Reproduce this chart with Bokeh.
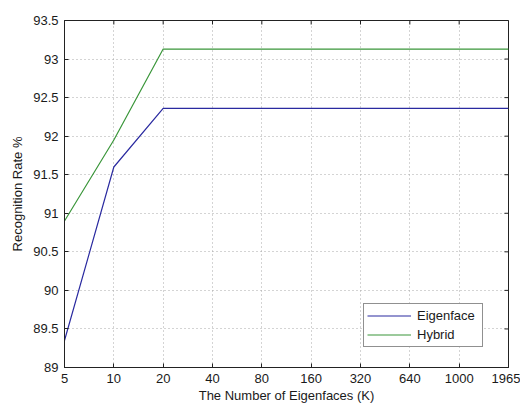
from bokeh.plotting import figure
from bokeh.models import (Range1d, FixedTicker, NumeralTickFormatter,
                          Legend, LegendItem, ColumnDataSource)
from bokeh.embed import file_html
from bokeh.resources import INLINE

# ---- data ----
categories = ["5", "10", "20", "40", "80", "160", "320", "640", "1000", "1965"]
eigenface = [89.35, 91.60, 92.36, 92.36, 92.36, 92.36, 92.36, 92.36, 92.36, 92.36]
hybrid = [90.90, 91.95, 93.13, 93.13, 93.13, 93.13, 93.13, 93.13, 93.13, 93.13]
y_ticks = [89, 89.5, 90, 90.5, 91, 91.5, 92, 92.5, 93, 93.5]
y_min, y_max = 89, 93.5

xs = list(range(len(categories)))
src = ColumnDataSource(dict(x=xs, eig=eigenface, hyb=hybrid))

FONT = "Liberation Sans"
FS = "13px"
TXT = "#1a1a1a"
AX = "#222222"

p = figure(width=520, height=405, output_backend="svg",
           toolbar_location=None,
           x_range=Range1d(0, len(categories) - 1), y_range=Range1d(y_min, y_max),
           min_border_left=64, min_border_right=12, min_border_top=20,
           min_border_bottom=38, background_fill_color="white",
           border_fill_color="white", outline_line_color=AX)

xt = FixedTicker(ticks=xs)
yt = FixedTicker(ticks=y_ticks)

p.xaxis.ticker = xt
p.xaxis.major_label_overrides = {i: c for i, c in enumerate(categories)}
p.yaxis.ticker = yt
p.yaxis.formatter = NumeralTickFormatter(format="0.[0]")

for ax in (p.xaxis, p.yaxis):
    ax.major_tick_in = 4
    ax.major_tick_out = 0
    ax.minor_tick_line_color = None
    ax.axis_line_color = AX
    ax.major_tick_line_color = AX
    ax.major_label_text_font = FONT
    ax.major_label_text_font_size = FS
    ax.major_label_text_color = TXT
    ax.axis_label_text_font = FONT
    ax.axis_label_text_font_size = FS
    ax.axis_label_text_font_style = "normal"
    ax.axis_label_text_color = TXT

p.xaxis.axis_label = "The Number of Eigenfaces (K)"
p.yaxis.axis_label = "Recognition Rate %"
p.xaxis.major_label_standoff = 6
p.yaxis.major_label_standoff = 6
p.xaxis.axis_label_standoff = 2
p.yaxis.axis_label_standoff = 5

p.xgrid.ticker = xt
p.ygrid.ticker = yt
for g in (p.xgrid, p.ygrid):
    g.grid_line_color = "#a8a8a8"
    g.grid_line_dash = "1 3"
    g.grid_line_width = 1

# inward tick marks on the top and right edges of the box (clipped by the frame)
p.scatter(x=xs, y=[y_max] * len(xs), marker="dash", angle=1.5708, size=8,
          line_color=AX, line_width=1)
p.scatter(x=[len(categories) - 1] * len(y_ticks), y=y_ticks, marker="dash",
          size=8, line_color=AX, line_width=1)

r1 = p.line("x", "eig", source=src, line_color="#2a2aa0", line_width=1.2)
r2 = p.line("x", "hyb", source=src, line_color="#3a963a", line_width=1.2)

legend = Legend(items=[LegendItem(label="Eigenface", renderers=[r1]),
                       LegendItem(label="Hybrid", renderers=[r2])],
                location=(299, 20), padding=3, spacing=2,
                glyph_width=44, glyph_height=17, label_height=17,
                label_width=62, label_standoff=6,
                label_text_font=FONT, label_text_font_size=FS,
                label_text_color=TXT,
                border_line_color=AX, border_line_width=1,
                background_fill_color="white", background_fill_alpha=1,
                margin=0)
p.add_layout(legend, "center")

open("out.html", "w").write(file_html(p, INLINE))
